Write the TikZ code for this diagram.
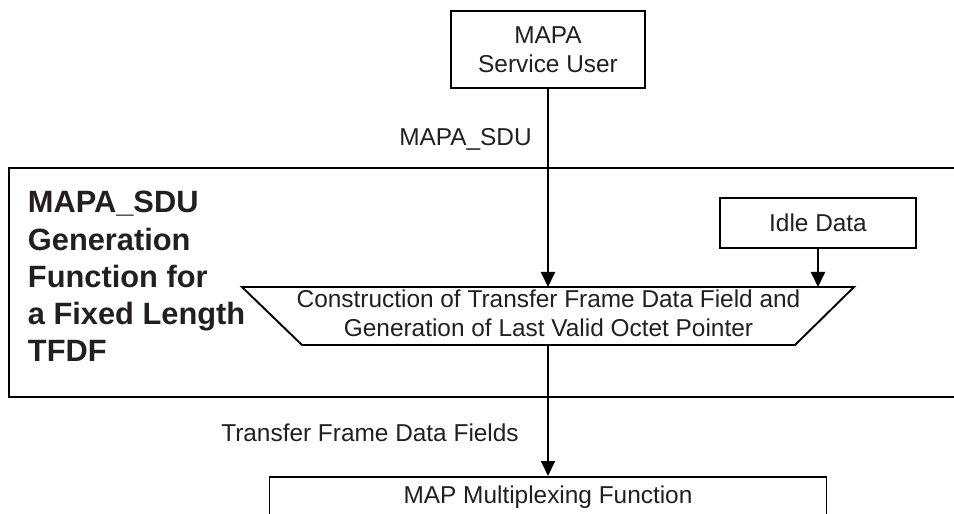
\documentclass[tikz,border=0pt]{standalone}
\usepackage{fontspec}
\setmainfont{Liberation Sans}
\usetikzlibrary{arrows.meta}
\definecolor{ink}{RGB}{35,31,32}
\begin{document}
\begin{tikzpicture}[x=1bp,y=-1bp,
  line width=1.9bp,
  box/.style={draw=black, line width=1.9bp, inner sep=0pt, align=center, text=ink,
    font=\fontsize{24.4bp}{29bp}\selectfont},
  lbl/.style={font=\fontsize{24.4bp}{29bp}\selectfont, inner sep=0pt, text=ink},
  arr/.style={-{Triangle[length=15bp,width=14bp]}, line width=1.9bp},
  titletext/.style={font=\fontsize{30.8bp}{37.25bp}\selectfont\bfseries, align=left, inner sep=0pt, text=ink}
]
\useasboundingbox (0,0) rectangle (954,514);
\clip (0,0) rectangle (954,514);
\fill[white] (0,0) rectangle (954,514);

% outer frame (extends past the right edge)
\draw (9,168) rectangle (990,397);
\node[titletext, anchor=base west] (gen) at (27,362) {MAPA\_SDU\\Generation\\Function for\\a Fixed Length\\TFDF};

% boxes
\node[box, minimum width=194bp, minimum height=77bp] (user) at (548,49.5) {MAPA\\Service User};
\node[box, minimum width=196bp, minimum height=50bp] (idle) at (818,223) {Idle Data};
\node[box, anchor=north, minimum width=557bp, text height=18bp, text depth=40bp, inner ysep=9bp] (mux) at (548,476) {MAP Multiplexing Function};

% trapezoid
\draw (242,287) -- (854,287) -- (795,345) -- (302,345) -- cycle;
\node[lbl, align=center, anchor=base] (constr) at (548.5,337) {Construction of Transfer Frame Data Field and\\Generation of Last Valid Octet Pointer};
\coordinate (ctop) at (548,287);
\coordinate (cidle) at (818,287);
\coordinate (cbot) at (548,345);

% connectors
\draw[arr] (user.south) -- (ctop);
\draw[arr] (idle.south) -- (cidle);
\draw[arr] (cbot) -- (mux.north);

% labels
\node[lbl, anchor=base] (lsdu) at (465.5,146) {MAPA\_SDU};
\node[lbl, anchor=base] (ltf) at (370,441) {Transfer Frame Data Fields};
\end{tikzpicture}
\end{document}
